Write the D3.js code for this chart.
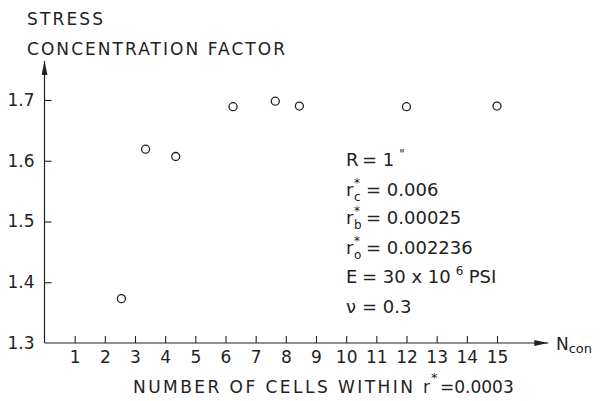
<!DOCTYPE html>
<html>
<head>
<meta charset="utf-8">
<script src="https://cdn.jsdelivr.net/npm/d3@7"></script>
<style>
  body { margin: 0; background: #fff; }
  text { font-family: "DejaVu Sans", "Liberation Sans", sans-serif; fill: #222; }
</style>
</head>
<body>
<div id="chart"></div>
<script>
// valeurs
const nCon = [2.55, 3.35, 4.35, 6.25, 7.65, 8.45, 12.0, 15.0];
const scf = [1.373, 1.619, 1.607, 1.689, 1.698, 1.690, 1.689, 1.690];
const xTicks = d3.range(1, 16);
const yTicks = [1.3, 1.4, 1.5, 1.6, 1.7];
const yTitle = ["STRESS", "CONCENTRATION FACTOR"];
const xTitle = "NUMBER OF CELLS WITHIN";
const xTitleValue = "=0.0003";
// lignes de la legende : [lettre, exposant, indice, suite, exposant final, fin]
const params = [
  ["R", "", "", "= 1", "\"", ""],
  ["r", "*", "c", "= 0.006", "", ""],
  ["r", "*", "b", "= 0.00025", "", ""],
  ["r", "*", "o", "= 0.002236", "", ""],
  ["E", "", "", "= 30 x 10", "6", "PSI"],
  ["\u03bd", "", "", "= 0.3", "", ""]
];

const W = 602, H = 401;
const svg = d3.select("#chart").append("svg")
  .attr("width", W).attr("height", H);

const x = d3.scaleLinear().domain([0, 15]).range([44.5, 497]);
const y = d3.scaleLinear().domain([1.3, 1.7]).range([343, 100]);
const xEnd = 16.7, yEnd = 1.764;

// fleches
const defs = svg.append("defs");
defs.append("marker").attr("id", "arrow")
  .attr("viewBox", "0 0 14 6").attr("refX", 14).attr("refY", 3)
  .attr("markerWidth", 14).attr("markerHeight", 6)
  .attr("markerUnits", "userSpaceOnUse").attr("orient", "auto")
  .append("path").attr("d", "M0,0 L14,3 L0,6 Z").attr("fill", "#222");

// axes
svg.append("line")
  .attr("x1", x(0)).attr("y1", y(1.3)).attr("x2", x(0)).attr("y2", y(yEnd))
  .attr("stroke", "#222").attr("stroke-width", 1.2).attr("marker-end", "url(#arrow)");
svg.append("line")
  .attr("x1", x(0)).attr("y1", y(1.3)).attr("x2", x(xEnd)).attr("y2", y(1.3))
  .attr("stroke", "#222").attr("stroke-width", 1.2).attr("marker-end", "url(#arrow)");

const gx = svg.append("g").attr("transform", `translate(0,${y(1.3)})`)
  .call(d3.axisBottom(x).tickValues(xTicks).tickFormat(d3.format("d"))
    .tickSizeInner(-7).tickSizeOuter(0).tickPadding(8));
const gy = svg.append("g").attr("transform", `translate(${x(0)},0)`)
  .call(d3.axisLeft(y).tickValues(yTicks).tickFormat(d3.format(".1f"))
    .tickSizeInner(-7).tickSizeOuter(0).tickPadding(10));
[gx, gy].forEach(g => {
  g.select(".domain").remove();
  g.selectAll(".tick line").attr("stroke", "#222").attr("stroke-width", 1.1);
  g.selectAll(".tick text").attr("font-size", 17).attr("fill", "#222")
    .style("font-family", "DejaVu Sans, sans-serif");
});
gy.selectAll(".tick").filter(d => d === 1.3).select("line").remove();

// points
svg.append("g").selectAll("circle")
  .data(nCon.map((d, i) => [d, scf[i]]))
  .enter().append("circle")
  .attr("cx", d => x(d[0])).attr("cy", d => y(d[1]))
  .attr("r", 4).attr("fill", "none").attr("stroke", "#222").attr("stroke-width", 1.3);

// titre axe y
svg.selectAll(".ytitle").data(yTitle).enter().append("text")
  .attr("class", "ytitle")
  .attr("x", 27).attr("y", (d, i) => 25 + i * 30)
  .attr("font-size", 17)
  .attr("textLength", (d, i) => i === 0 ? 76 : 258)
  .attr("lengthAdjust", "spacing")
  .text(d => d);

// titre axe x
svg.append("text").attr("x", 133).attr("y", 393).attr("font-size", 17)
  .attr("textLength", 280).attr("lengthAdjust", "spacing").text(xTitle);
svg.append("text").attr("x", 423).attr("y", 393).attr("font-size", 17).text("r");
svg.append("text").attr("x", 431).attr("y", 382).attr("font-size", 13).text("*");
svg.append("text").attr("x", 440).attr("y", 393).attr("font-size", 17).text(xTitleValue);

// N con
const nt = svg.append("text").attr("x", 556).attr("y", 350).attr("font-size", 17);
nt.append("tspan").text("N");
nt.append("tspan").attr("font-size", 13).attr("dy", 3).text("con");

// legende des parametres
const lineY = [166, 196, 224, 254, 283, 313];
const x0 = 346;
params.forEach((p, i) => {
  const g = svg.append("g").attr("transform", `translate(${x0},${lineY[i]})`);
  g.append("text").attr("font-size", 18).text(p[0]);
  let xs = 16;
  if (p[1]) {
    g.append("text").attr("x", 8).attr("y", -9).attr("font-size", 12).text(p[1]);
    g.append("text").attr("x", 8).attr("y", 5).attr("font-size", 12).text(p[2]);
    xs = 20;
  }
  const t = g.append("text").attr("x", xs).attr("font-size", 18).text(p[3]);
  if (p[4]) {
    const w = t.node().getComputedTextLength();
    g.append("text").attr("x", xs + w + 5).attr("y", -8)
      .attr("font-size", 12).text(p[4]);
    if (p[5]) g.append("text").attr("x", xs + w + 18).attr("font-size", 18).text(p[5]);
  }
});
</script>
</body>
</html>
